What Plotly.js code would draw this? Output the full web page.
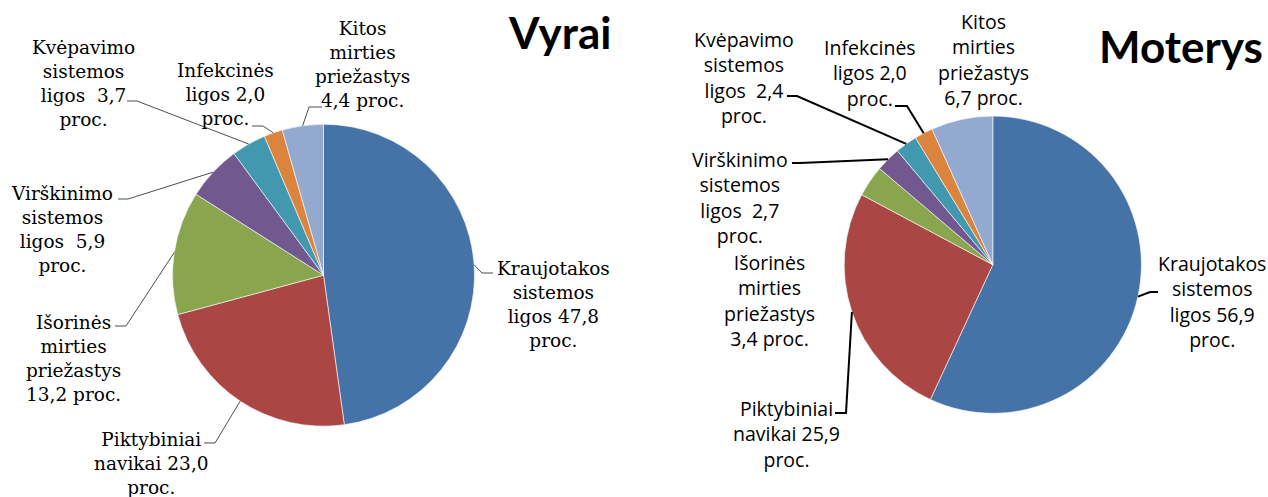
<!DOCTYPE html>
<html>
<head>
<meta charset="utf-8">
<script src="https://cdn.plot.ly/plotly-3.0.1.min.js"></script>
<style>html,body{margin:0;padding:0;background:#fff;}#chart{width:1268px;height:497px;}</style>
</head>
<body>
<div id="chart"></div>
<script>
// ---- data ----
const categories = ['Kraujotakos sistemos ligos', 'Piktybiniai navikai', 'Išorinės mirties priežastys',
  'Virškinimo sistemos ligos', 'Kvėpavimo sistemos ligos', 'Infekcinės ligos', 'Kitos mirties priežastys'];
const menValues = [47.8, 23.0, 13.2, 5.9, 3.7, 2.0, 4.4];
const womenValues = [56.9, 25.9, 3.4, 2.7, 2.4, 2.0, 6.7];
const labelTemplates = [
  'Kraujotakos<br>sistemos<br>ligos {v}<br>proc.',
  'Piktybiniai<br>navikai {v}<br>proc.',
  'Išorinės<br>mirties<br>priežastys<br>{v} proc.',
  'Virškinimo<br>sistemos<br>ligos\u00a0 {v}<br>proc.',
  'Kvėpavimo<br>sistemos<br>ligos\u00a0 {v}<br>proc.',
  'Infekcinės<br>ligos {v}<br>proc.',
  'Kitos<br>mirties<br>priežastys<br>{v} proc.'
];
const chartTitles = ['Vyrai', 'Moterys'];
const colors = ['#4572A7', '#AA4643', '#89A54E', '#71588F', '#4198AF', '#DB843D', '#93A9CF'];

// ---- layout geometry (pixels) ----
const W = 1268, H = 497;
const men = {
  cx: 323.5, cy: 275.2, r: 151,
  labels: [[553, 304.5], [151, 463], [73, 358], [62, 230], [83, 83.4], [225, 94.2], [362, 64.6]],
  lines: [[[482, 273], [493, 273]], [[215, 443], [204, 443]], [[126, 326], [115, 326]],
          [[128, 199], [118, 199]], [[137, 101], [127, 101]], [[263, 126], [252, 126]], [[309, 107], [322, 107]]],
  font: 'DejaVu Serif', size: 18.5, lineColor: '#4d4d4d', lineWidth: 1,
  title: [559, 32], titleSize: 44
};
const women = {
  cx: 992.8, cy: 264.7, r: 148.6,
  labels: [[1212, 301.6], [786, 434], [769, 300.5], [739.5, 197], [744, 77.5], [870, 72.5], [984, 59]],
  lines: [[[1150, 292], [1158, 292]], [[846, 413], [835, 413]], null,
          [[800, 163], [792, 163]], [[797, 96], [787, 96]], [[907, 106], [895, 106]], null],
  font: 'Open Sans', size: 19.5, lineColor: '#000000', lineWidth: 2,
  title: [1181, 46], titleSize: 44
};

const px = x => x / W, py = y => 1 - y / H;
const fmt = v => v.toFixed(1).replace('.', ',');

const traces = [], annotations = [], shapes = [];
[[men, menValues], [women, womenValues]].forEach(([g, vals], k) => {
  traces.push({
    type: 'pie', values: vals, labels: categories, sort: false, direction: 'clockwise', rotation: 0,
    textinfo: 'none', hovertemplate: '%{label}: %{value:.1f} proc.<extra></extra>',
    marker: { colors: colors, line: { color: '#ffffff', width: 0.6 } },
    domain: { x: [px(g.cx - g.r), px(g.cx + g.r)], y: [py(g.cy + g.r), py(g.cy - g.r)] },
    showlegend: false
  });
  const total = vals.reduce((a, b) => a + b, 0);
  let cum = 0;
  vals.forEach((v, i) => {
    const mid = (cum + v / 2) / total * 2 * Math.PI;
    cum += v;
    const ax = g.cx + g.r * Math.sin(mid), ay = g.cy - g.r * Math.cos(mid);
    annotations.push({
      xref: 'paper', yref: 'paper', x: px(g.labels[i][0]), y: py(g.labels[i][1]),
      xanchor: 'center', yanchor: 'middle', align: 'center', showarrow: false,
      text: labelTemplates[i].replace('{v}', fmt(v)),
      font: { family: g.font, size: g.size, color: '#000000' }
    });
    const ln = g.lines[i];
    if (ln) {
      shapes.push({
        type: 'path', xref: 'paper', yref: 'paper',
        path: `M ${px(ax)} ${py(ay)} L ${px(ln[0][0])} ${py(ln[0][1])} L ${px(ln[1][0])} ${py(ln[1][1])}`,
        line: { color: g.lineColor, width: g.lineWidth }
      });
    }
  });
  annotations.push({
    xref: 'paper', yref: 'paper', x: px(g.title[0]), y: py(g.title[1]),
    xanchor: 'center', yanchor: 'middle', showarrow: false,
    text: '<b>' + chartTitles[k] + '</b>',
    font: { family: 'Lato', size: g.titleSize, color: '#000000' }
  });
});

Plotly.newPlot('chart', traces, {
  width: W, height: H, margin: { l: 0, r: 0, t: 0, b: 0 },
  paper_bgcolor: '#ffffff', plot_bgcolor: '#ffffff',
  annotations: annotations, shapes: shapes
}, { displayModeBar: false, staticPlot: false });
</script>
</body>
</html>
